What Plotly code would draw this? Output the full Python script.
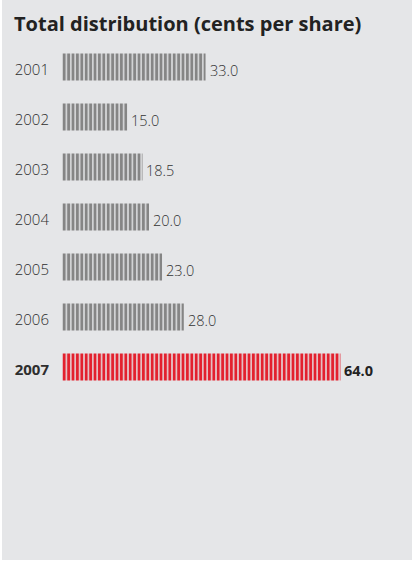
import plotly.graph_objects as go

years = ["2001", "2002", "2003", "2004", "2005", "2006", "2007"]
values = [33.0, 15.0, 18.5, 20.0, 23.0, 28.0, 64.0]
value_labels = ["33.0", "15.0", "18.5", "20.0", "23.0", "28.0", "<b>64.0</b>"]
year_labels = ["2001", "2002", "2003", "2004", "2005", "2006", "<b>2007</b>"]

GRAY = "#858585"
RED = "#e3202d"
BG = "#e5e6e8"

W, H = 413, 561
L, R, T, B = 62, 11, 42, 3

colors = [GRAY] * 6 + [RED]
text_colors = ["#333333"] * 6 + ["#222222"]

fig = go.Figure(
    go.Bar(
        x=values,
        y=years,
        orientation="h",
        width=0.54,
        marker=dict(
            color=BG,
            line=dict(width=0),
            pattern=dict(shape="|", fgcolor=colors, bgcolor=BG, size=4.4, solidity=0.68, fillmode="replace"),
        ),
        cliponaxis=False,
        hoverinfo="skip",
    )
)

for i, (v, t, c) in enumerate(zip(values, value_labels, text_colors)):
    fig.add_annotation(
        x=v, y=i, xref="x", yref="y", text=t, showarrow=False,
        xanchor="left", yanchor="middle", xshift=2, yshift=-3,
        font=dict(family="Open Sans", size=14.5, color=c, weight=300),
    )

plot_w = W - L - R
fig.update_layout(
    width=W,
    height=H,
    margin=dict(l=L, r=R, t=T, b=B, pad=0),
    paper_bgcolor="white",
    plot_bgcolor="rgba(0,0,0,0)",
    showlegend=False,
    title=dict(
        text="<b>Total distribution (cents per share)</b>",
        x=14 / W, xanchor="left", y=1 - 24 / H, yanchor="middle",
        font=dict(family="Open Sans", size=20, color="#222222"),
    ),
    xaxis=dict(range=[0, plot_w / 4.35], visible=False, fixedrange=True),
    yaxis=dict(
        type="category",
        range=[9.82, -0.5],
        tickvals=years,
        ticktext=year_labels,
        ticks="",
        showgrid=False,
        zeroline=False,
        showline=False,
        ticklabelstandoff=12,
        ticklabelshift=-3,
        tickfont=dict(family="Open Sans", size=15, color="#2e2e2e", weight=300),
        fixedrange=True,
    ),
    shapes=[
        dict(
            type="rect", layer="below", xref="paper", yref="paper",
            x0=(2 - L) / plot_w, x1=(412 - L) / plot_w,
            y0=(H - B - 560) / (H - T - B),
            y1=(H - B - 0) / (H - T - B),
            fillcolor=BG, line=dict(width=0),
        )
    ],
)

fig.write_html(
    "out.html",
    config={"displayModeBar": False},
    post_script="document.body.style.margin='0';document.body.style.overflow='hidden';",
)
